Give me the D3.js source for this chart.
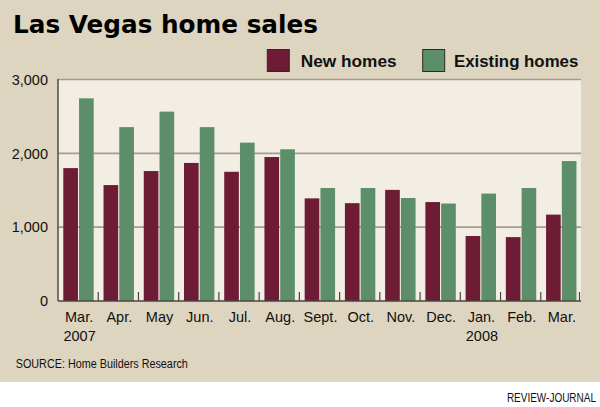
<!DOCTYPE html>
<html><head><meta charset="utf-8">
<script src="https://cdn.jsdelivr.net/npm/d3@7"></script>
<style>html,body{margin:0;padding:0;background:#fff;}svg{display:block;}</style>
</head><body>
<script>
const months = ["Mar.","Apr.","May","Jun.","Jul.","Aug.","Sept.","Oct.","Nov.","Dec.","Jan.","Feb.","Mar."];
const years = ["2007","","","","","","","","","","2008","",""];
const newHomes = [1800,1570,1760,1870,1750,1950,1390,1325,1505,1340,880,865,1170];
const existingHomes = [2745,2355,2565,2355,2145,2055,1530,1530,1395,1320,1455,1530,1895];
const yTicks = [0,1000,2000,3000];
const yTickLabels = ["0","1,000","2,000","3,000"];
const seriesNames = ["New homes","Existing homes"];
const colors = ["#6e1b36","#5c8e6a"];

const W=600,H=407;
const svg=d3.select("body").append("svg").attr("width",W).attr("height",H);
svg.append("rect").attr("width",W).attr("height",H).attr("fill","#ffffff");
svg.append("rect").attr("width",W).attr("height",382).attr("fill","#ddd5bf");

const L=58,R=581,T=79.5,B=301;
svg.append("rect").attr("x",L).attr("y",T).attr("width",R-L).attr("height",B-T).attr("fill","#f2eee3");

const idx=d3.range(months.length);
const x0=d3.scaleBand().domain(idx).range([L,R]).padding(0);
const x1=d3.scaleBand().domain([0,1]).range([5.3,35.7]).paddingInner(0.07);
const y=d3.scaleLinear().domain([0,3000]).range([B,T]);

// gridlines
svg.append("g").selectAll("line").data(yTicks.filter(v=>v>0)).join("line")
  .attr("x1",L).attr("x2",R).attr("y1",d=>y(d)).attr("y2",d=>y(d))
  .attr("stroke","#a39d8f").attr("stroke-width",1.6);

// bars
const g=svg.append("g").selectAll("g").data(idx).join("g")
  .attr("transform",i=>`translate(${x0(i)},0)`);
g.selectAll("rect").data(i=>[newHomes[i],existingHomes[i]].map((v,s)=>({v,s}))).join("rect")
  .attr("x",d=>x1(d.s)).attr("width",x1.bandwidth())
  .attr("y",d=>y(d.v)).attr("height",d=>B-y(d.v))
  .attr("fill",d=>colors[d.s]);

// ticks between groups
svg.append("g").selectAll("line").data(idx.map(i=>i+1)).join("line")
  .attr("x1",i=>i<months.length?x0(i):R-1.5).attr("x2",i=>i<months.length?x0(i):R-1.5)
  .attr("y1",292).attr("y2",B).attr("stroke","#4a4540").attr("stroke-width",1.2);

// axes lines
svg.append("line").attr("x1",L).attr("x2",R).attr("y1",B).attr("y2",B).attr("stroke","#4a4540").attr("stroke-width",1.6);
svg.append("line").attr("x1",L).attr("x2",L).attr("y1",T-0.5).attr("y2",B).attr("stroke","#5a554e").attr("stroke-width",1.6);

const font="'Liberation Sans', Arial, sans-serif";
// y labels
svg.append("g").selectAll("text").data(yTicks).join("text")
  .attr("x",48).attr("y",d=>y(d)+5.2).attr("text-anchor","end")
  .attr("font-family",font).attr("font-size",14.5).attr("fill","#111")
  .text((d,i)=>yTickLabels[i]);

// x labels
svg.append("g").selectAll("text").data(idx).join("text")
  .attr("x",i=>x0(i)+x0.bandwidth()/2+1).attr("y",322.3).attr("text-anchor","middle")
  .attr("font-family",font).attr("font-size",14.5).attr("fill","#111")
  .text(i=>months[i]);
svg.append("g").selectAll("text").data(idx.filter(i=>years[i])).join("text")
  .attr("x",i=>x0(i)+x0.bandwidth()/2+1.5).attr("y",341).attr("text-anchor","middle")
  .attr("font-family",font).attr("font-size",14.5).attr("fill","#111")
  .text(i=>years[i]);

// title
svg.append("text").attr("x",13).attr("y",33.3)
  .attr("font-family","'DejaVu Sans', sans-serif").attr("font-weight","bold").attr("font-size",24.6)
  .attr("textLength",305).attr("lengthAdjust","spacingAndGlyphs").attr("fill","#000")
  .text("Las Vegas home sales");

// legend
const legX=[267.3,422.7], legTX=[300.7,454], legTW=[96,124.3];
seriesNames.forEach((n,s)=>{
  svg.append("rect").attr("x",legX[s]).attr("y",49.5).attr("width",22).attr("height",22)
    .attr("fill",colors[s]).attr("stroke","#2e2a26").attr("stroke-width",1);
  svg.append("text").attr("x",legTX[s]).attr("y",67.3)
    .attr("font-family",font).attr("font-weight","bold").attr("font-size",17)
    .attr("textLength",legTW[s]).attr("lengthAdjust","spacingAndGlyphs").attr("fill","#111").text(n);
});

// source
svg.append("text").attr("transform","translate(15.7,368.3) scale(0.8,1)")
  .attr("font-family",font).attr("font-size",13.5).attr("fill","#111")
  .text("SOURCE: Home Builders Research");
svg.append("text").attr("transform","translate(596,402) scale(0.8,1)")
  .attr("text-anchor","end")
  .attr("font-family",font).attr("font-size",12.5).attr("fill","#111")
  .text("REVIEW-JOURNAL");
</script>
</body></html>
